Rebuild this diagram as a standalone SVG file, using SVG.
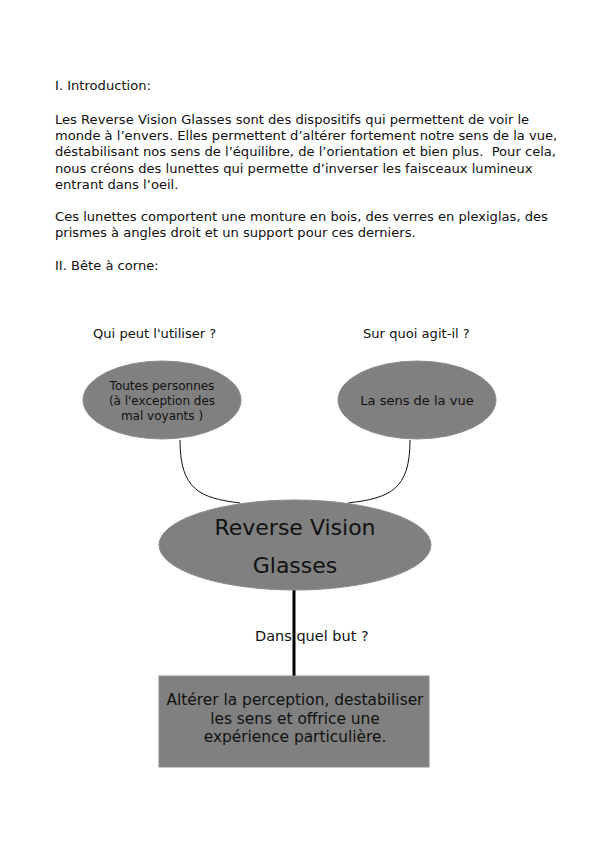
<svg xmlns="http://www.w3.org/2000/svg" width="600" height="849" viewBox="0 0 600 849">
<style>
text{font-family:"DejaVu Sans",Verdana,sans-serif;fill:#111;white-space:pre}
.b{font-size:13.1px}
.n{fill:#808080;stroke:#8c8c8c;stroke-width:1}
.c{fill:none;stroke:#111;stroke-width:1}
</style>
<rect width="600" height="849" fill="#fff"/>
<g id="intro" class="b">
<text x="55" y="90">I. Introduction:</text>
<text x="55" y="123.5">Les Reverse Vision Glasses sont des dispositifs qui permettent de voir le</text>
<text x="55" y="139.9">monde à l’envers. Elles permettent d’altérer fortement notre sens de la vue,</text>
<text x="55" y="156.3" xml:space="preserve">déstabilisant nos sens de l’équilibre, de l’orientation et bien plus.  Pour cela,</text>
<text x="55" y="172.7">nous créons des lunettes qui permette d’inverser les faisceaux lumineux</text>
<text x="55" y="189.1">entrant dans l’oeil.</text>
<text x="55" y="221">Ces lunettes comportent une monture en bois, des verres en plexiglas, des</text>
<text x="55" y="237.4">prismes à angles droit et un support pour ces derniers.</text>
<text x="55" y="270">II. Bête à corne:</text>
</g>
<g id="connectors">
<path class="c" d="M180,440 C180,490 200,498 240,503"/>
<path class="c" d="M410,440 C410,490 390,498 348,503"/>
<line x1="294" y1="590" x2="294" y2="683" stroke="#000" stroke-width="3"/>
</g>
<g id="label-qui"><text class="b" x="93" y="338">Qui peut l'utiliser ?</text></g>
<g id="label-sur"><text class="b" x="363" y="338">Sur quoi agit-il ?</text></g>
<g id="node-toutes">
<ellipse class="n" cx="162" cy="400" rx="79" ry="39"/>
<text x="162" y="389.5" text-anchor="middle" font-size="12">Toutes personnes</text>
<text x="162" y="404.5" text-anchor="middle" font-size="12">(à l'exception des</text>
<text x="162" y="419.5" text-anchor="middle" font-size="12">mal voyants )</text>
</g>
<g id="node-sens">
<ellipse class="n" cx="417" cy="400" rx="79" ry="39"/>
<text x="417" y="404.5" text-anchor="middle" font-size="13">La sens de la vue</text>
</g>
<g id="node-rvg">
<ellipse class="n" cx="295" cy="545" rx="136" ry="45"/>
<text x="295" y="535" text-anchor="middle" font-size="22">Reverse Vision</text>
<text x="295" y="572.5" text-anchor="middle" font-size="22">Glasses</text>
</g>
<g id="label-dans"><text x="255" y="641" font-size="14.5">Dans quel but ?</text></g>
<g id="node-but">
<rect class="n" x="159" y="676" width="270" height="91"/>
<text x="295" y="705" text-anchor="middle" font-size="15.4">Altérer la perception, destabiliser</text>
<text x="295" y="723.5" text-anchor="middle" font-size="15.4">les sens et offrice une</text>
<text x="295" y="742" text-anchor="middle" font-size="15.4">expérience particulière.</text>
</g>
</svg>
